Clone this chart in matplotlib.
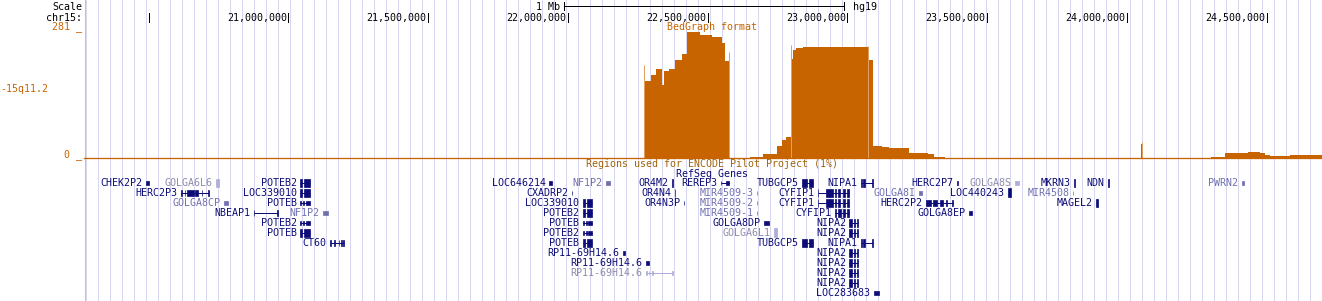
import numpy as np
import matplotlib.pyplot as plt
from matplotlib import transforms

plt.rcParams['font.family'] = ['DejaVu Sans Mono', 'DejaVu Sans']
FS = 7.2
PX = 0.72  # one pixel in points at 100 dpi

# window shown, in Mb on chr15 (hg19)
view_start, view_end = 20.2692, 24.6976
tick_mb = [20.5, 21.0, 21.5, 22.0, 22.5, 23.0, 23.5, 24.0, 24.5]
scale_bar = (21.986, 22.986)
bed_max = 281

# bedGraph signal as steps: edges in Mb, one value per step
bed_edges = [20.2692, 22.272, 22.297, 22.315, 22.337, 22.344, 22.362, 22.383,
             22.408, 22.426, 22.473, 22.515, 22.551, 22.562, 22.580, 22.651,
             22.697, 22.748, 22.766, 22.780, 22.798, 22.805, 22.815, 22.840,
             23.073, 23.091, 23.124, 23.149, 23.220, 23.288, 23.310, 23.349,
             23.438, 24.050, 24.054, 24.057, 24.136, 24.300, 24.350, 24.375,
             24.432, 24.475, 24.493, 24.511, 24.582, 24.661, 24.6976]
bed_values = [0, 169, 182, 195, 160, 191, 195, 215, 228, 277, 270, 266, 252, 213,
              0, 3, 9, 28, 40, 48, 217, 237, 241, 244, 215, 28, 26, 24, 11, 9,
              3, 1, 0, 31, 18, 0, 2, 3, 11, 12, 15, 12, 7, 5, 8, 7]
# lighter max whiskers
whisker_pos = [22.273, 22.576, 22.799, 23.072, 24.052]
whisker_val = [204, 233, 248, 246, 36]

# RefSeq genes: name, row, shade, exon blocks (Mb), block height (px)
genes = [
    ("CHEK2P2", 0, 'd', [(20.491, 20.502)], 4),
    ("GOLGA6L6", 0, 'l', [(20.741, 20.752)], 8),
    ("POTEB2", 0, 'd', [(21.042, 21.049), (21.056, 21.078)], 8),
    ("LOC646214", 0, 'd', [(21.933, 21.943)], 4),
    ("NF1P2", 0, 'm', [(22.136, 22.150)], 4),
    ("OR4M2", 0, 'd', [(22.372, 22.375)], 8),
    ("REREP3", 0, 'd', [(22.547, 22.549), (22.565, 22.577)], 4),
    ("TUBGCP5", 0, 'd', [(22.838, 22.856), (22.862, 22.877)], 8),
    ("NIPA1", 0, 'd', [(23.048, 23.052), (23.055, 23.063), (23.089, 23.092)], 8),
    ("HERC2P7", 0, 'd', [(23.391, 23.394)], 4),
    ("GOLGA8S", 0, 'l', [(23.599, 23.614)], 4),
    ("MKRN3", 0, 'd', [(23.810, 23.813)], 8),
    ("NDN", 0, 'd', [(23.931, 23.935)], 8),
    ("PWRN2", 0, 'm', [(24.411, 24.417)], 4),

    ("HERC2P3", 1, 'd', [(20.616, 20.618), (20.630, 20.632), (20.637, 20.662),
                         (20.666, 20.677), (20.690, 20.692), (20.714, 20.716)], 6),
    ("LOC339010", 1, 'd', [(21.042, 21.049), (21.056, 21.078)], 8),
    ("CXADRP2", 1, 'd', [(22.014, 22.016)], 4),
    ("OR4N4", 1, 'd', [(22.382, 22.385)], 8),
    ("MIR4509-3", 1, 'm', [(22.676, 22.678)], 4),
    ("CYFIP1", 1, 'd', [(22.894, 22.896), (22.925, 22.950), (22.955, 22.960),
                        (22.965, 22.975), (22.985, 22.990), (22.998, 23.005)], 8),
    ("GOLGA8I", 1, 'm', [(23.256, 23.267)], 4),
    ("LOC440243", 1, 'd', [(23.574, 23.585)], 9),
    ("MIR4508", 1, 'm', [(23.806, 23.808)], 4),

    ("GOLGA8CP", 2, 'm', [(20.770, 20.784)], 4),
    ("POTEB", 2, 'd', [(21.042, 21.045), (21.053, 21.056), (21.062, 21.078)], 4),
    ("LOC339010", 2, 'd', [(22.054, 22.061), (22.068, 22.086)], 8),
    ("OR4N3P", 2, 'd', [(22.414, 22.416)], 4),
    ("MIR4509-2", 2, 'm', [(22.676, 22.678)], 4),
    ("CYFIP1", 2, 'd', [(22.894, 22.896), (22.925, 22.950), (22.955, 22.960),
                        (22.965, 22.975), (22.985, 22.990), (22.998, 23.005)], 8),
    ("HERC2P2", 2, 'd', [(23.281, 23.300), (23.305, 23.320), (23.330, 23.342),
                         (23.352, 23.355), (23.375, 23.378)], 6),
    ("MAGEL2", 2, 'd', [(23.889, 23.895)], 8),

    ("NBEAP1", 3, 'd', [(20.877, 20.879), (20.961, 20.963)], 6),
    ("NF1P2", 3, 'm', [(21.124, 21.142)], 4),
    ("POTEB2", 3, 'd', [(22.054, 22.061), (22.068, 22.086)], 8),
    ("MIR4509-1", 3, 'm', [(22.676, 22.678)], 4),
    ("CYFIP1", 3, 'd', [(22.955, 22.960), (22.968, 22.978), (22.985, 22.990),
                        (22.998, 23.005)], 8),
    ("GOLGA8EP", 3, 'd', [(23.435, 23.446)], 4),

    ("POTEB2", 4, 'd', [(21.042, 21.045), (21.053, 21.056), (21.062, 21.078)], 4),
    ("POTEB", 4, 'd', [(22.054, 22.057), (22.064, 22.067), (22.072, 22.086)], 4),
    ("GOLGA8DP", 4, 'd', [(22.701, 22.719)], 4),
    ("NIPA2", 4, 'd', [(23.007, 23.015), (23.022, 23.027), (23.035, 23.039)], 8),

    ("POTEB", 5, 'd', [(21.042, 21.049), (21.056, 21.078)], 8),
    ("POTEB2", 5, 'd', [(22.054, 22.057), (22.064, 22.067), (22.072, 22.086)], 4),
    ("GOLGA6L1", 5, 'l', [(22.737, 22.748)], 9),
    ("NIPA2", 5, 'd', [(23.007, 23.015), (23.022, 23.027), (23.035, 23.039)], 8),

    ("CT60", 6, 'd', [(21.149, 21.151), (21.165, 21.168), (21.180, 21.183),
                      (21.190, 21.193), (21.197, 21.199)], 6),
    ("POTEB", 6, 'd', [(22.054, 22.061), (22.068, 22.086)], 8),
    ("TUBGCP5", 6, 'd', [(22.838, 22.856), (22.862, 22.877)], 8),
    ("NIPA1", 6, 'd', [(23.048, 23.052), (23.055, 23.063), (23.089, 23.092)], 8),

    ("RP11-69H14.6", 7, 'd', [(22.197, 22.205)], 4),
    ("NIPA2", 7, 'd', [(23.007, 23.015), (23.022, 23.027), (23.035, 23.039)], 8),
    ("RP11-69H14.6", 8, 'd', [(22.279, 22.290)], 4),
    ("NIPA2", 8, 'd', [(23.007, 23.015), (23.022, 23.027), (23.035, 23.039)], 8),
    ("RP11-69H14.6", 9, 'l', [(22.279, 22.283), (22.290, 22.292), (22.300, 22.303),
                              (22.372, 22.376)], 4),
    ("NIPA2", 9, 'd', [(23.007, 23.015), (23.022, 23.027), (23.035, 23.039)], 8),
    ("NIPA2", 10, 'd', [(23.007, 23.015), (23.022, 23.027), (23.035, 23.039)], 8),
    ("LOC283683", 11, 'd', [(23.095, 23.112)], 4),
]

orange = '#c86400'
text_col = {'d': '#0c0c78', 'm': '#7070b0', 'l': '#8c8ca8'}
glyph_col = {'d': '#0c0c78', 'm': '#7070b0', 'l': '#adadd8'}

W, H = 1322, 301
fig = plt.figure(figsize=(W / 100, H / 100), dpi=100)
x0 = 84  # pixel where the data window starts

# full-figure pixel axes: guidelines and left labels
bg = fig.add_axes([0, 0, 1, 1])
bg.set_xlim(0, W)
bg.set_ylim(H, 0)
bg.axis('off')
for gx in np.arange(x0 + 1.5, W, 12):
    bg.axvline(gx, color='#d9d6f0', lw=PX, antialiased=False)
bg.axvline(x0 + 0.5, color='#ffaaaa', lw=PX, antialiased=False)

kw = dict(fontsize=FS, va='baseline')
bg.text(82, 10, "Scale", ha='right', color='black', **kw)
bg.text(82, 21, "chr15:", ha='right', color='black', **kw)
bg.text(82, 29, "281 _", ha='right', color=orange, **kw)
bg.text(0, 91.5, "-15q11.2", ha='left', color=orange, **kw)
bg.text(82, 157.5, "0 _", ha='right', color=orange, **kw)

# main axes: genomic x, pixel y
ax = fig.add_axes([x0 / W, 0, (W - x0) / W, 1])
ax.set_xlim(view_start, view_end)
ax.set_ylim(H, 0)
ax.axis('off')

# position ruler
for t in tick_mb:
    ax.vlines(t, 13, 21.5, color='black', lw=PX, antialiased=False)
    if t > 20.9:
        ax.text(t, 21, f"{int(round(t * 1e6)):,}", ha='right', color='black',
                transform=transforms.offset_copy(ax.transData, fig=fig, x=-1.5, y=0, units='dots'),
                **kw)
ax.hlines(6, scale_bar[0], scale_bar[1], color='black', lw=PX, antialiased=False)
ax.vlines(scale_bar, 2, 10, color='black', lw=PX, antialiased=False)
ax.text(scale_bar[0], 9.5, "1 Mb", ha='right', color='black',
        transform=transforms.offset_copy(ax.transData, fig=fig, x=-4, y=0, units='dots'), **kw)
ax.text(scale_bar[1], 9.5, "hg19", ha='left', color='black',
        transform=transforms.offset_copy(ax.transData, fig=fig, x=9, y=0, units='dots'), **kw)

center = 22.5145
ax.text(center, 29.5, "BedGraph format", ha='center', color=orange, **kw)
ax.text(center, 167, "Regions used for ENCODE Pilot Project (1%)", ha='center',
        color='#a0640a', **kw)
ax.text(center, 177, "RefSeq Genes", ha='center', color='#0c0c78', **kw)

# genes
lab_tr = transforms.offset_copy(ax.transData, fig=fig, x=-3.5, y=0, units='dots')
for name, row, shade, exons, h in genes:
    y = 182.8 + 10 * row
    s, e = exons[0][0], exons[-1][1]
    gc = glyph_col[shade]
    if len(exons) > 1:
        ax.hlines(y, s, e, color=gc, lw=PX)
    ax.broken_barh([(a, b - a) for a, b in exons], (y - h / 2, h),
                   facecolor=gc, edgecolor=gc, lw=0.5)
    ax.text(s, y + 3.4, name, ha='right', color=text_col[shade],
            transform=lab_tr, **kw)

# bedGraph track
bed = fig.add_axes([x0 / W, 1 - 158.5 / H, (W - x0) / W, 128.5 / H])
bed.set_xlim(view_start, view_end)
bed.set_ylim(0, bed_max)
bed.axis('off')
bed.vlines(whisker_pos, 0, whisker_val, color='#e2a060', lw=PX)
bed.stairs(bed_values, bed_edges, fill=True, color=orange, lw=0)
bed.axhline(0, color=orange, lw=PX * 1.3, clip_on=False)

fig.savefig('out.png', dpi=100)
